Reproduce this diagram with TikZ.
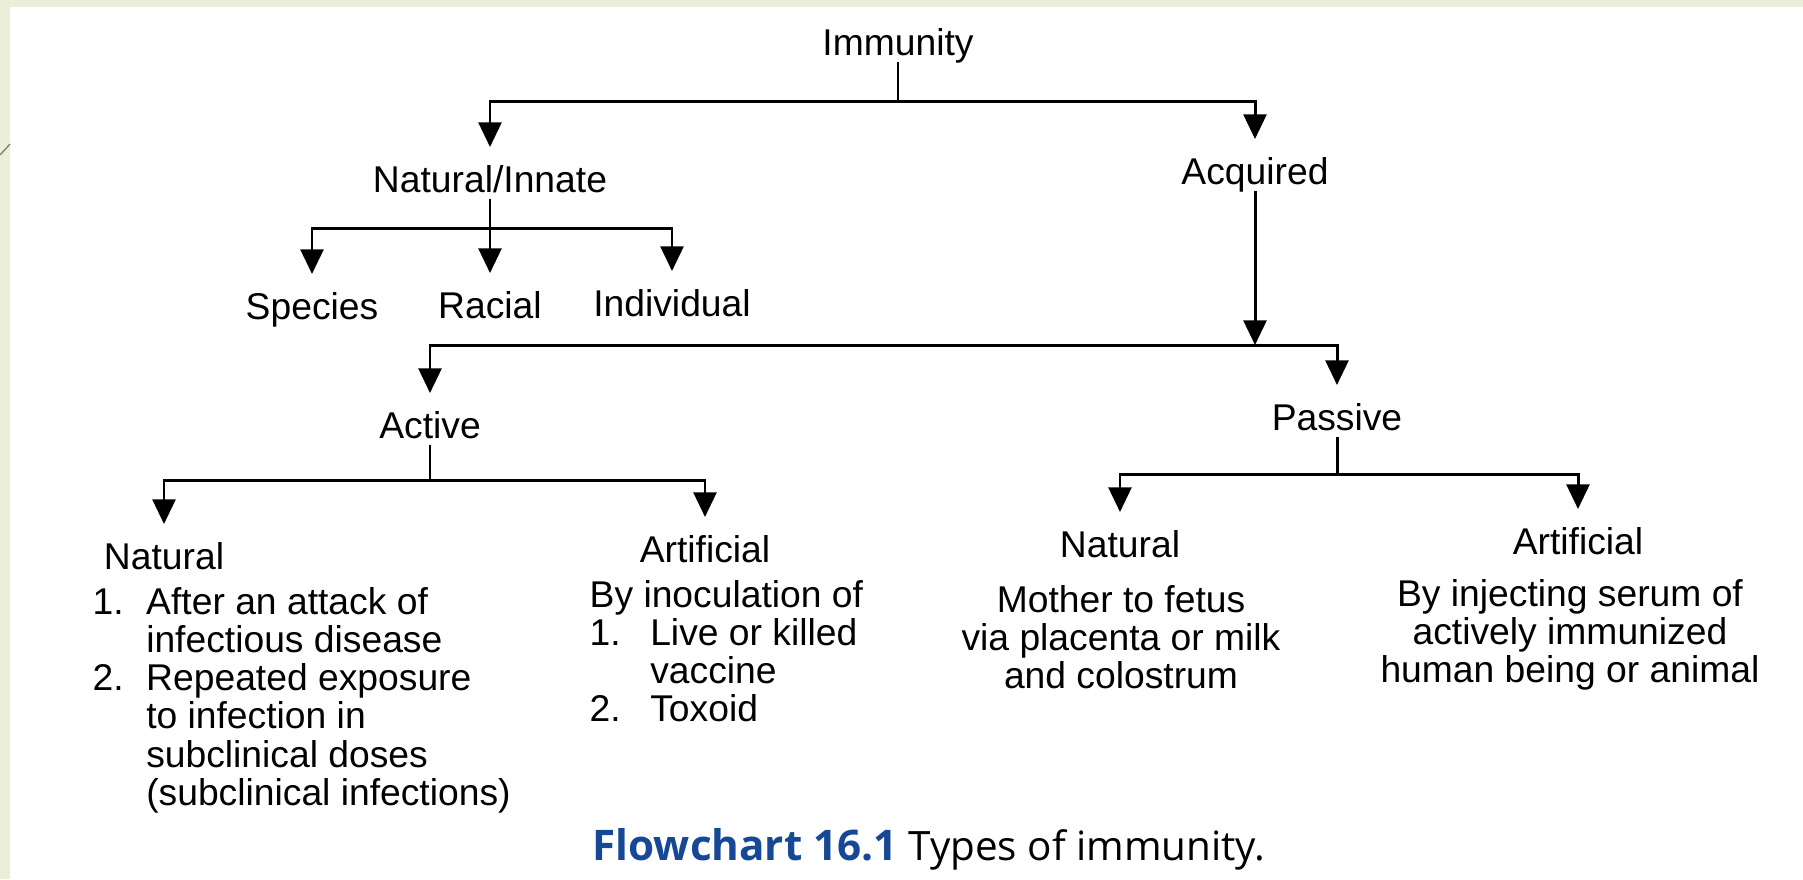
\documentclass[tikz,border=0pt]{standalone}
\usepackage{fontspec}
\setmainfont{Liberation Sans}
\newfontfamily\capfont{Open Sans}
\usetikzlibrary{arrows.meta}

\definecolor{slidegreen}{RGB}{234,239,218}
\definecolor{capblue}{RGB}{22,72,150}

\tikzset{
  lbl/.style={font=\fontsize{10.6}{10.7}\selectfont, text height=11pt, text depth=0pt, inner xsep=2pt, inner ysep=1.7pt},
  lst/.style={font=\fontsize{10.6}{10.7}\selectfont, inner sep=0pt},
  branch/.style={line width=0.85pt},
  arr/.style={branch, -{Triangle[length=7pt,width=6.5pt]}}
}

\begin{document}
\begin{tikzpicture}
  % page
  \useasboundingbox (0,0) rectangle (18.03,-8.79);
  \fill[white] (0,0) rectangle (18.03,-8.79);
  \fill[slidegreen] (0,0) rectangle (18.03,-0.07);
  \fill[slidegreen] (0,0) rectangle (0.10,-8.79);
  \draw[gray!70!brown, line width=0.4pt] (0,-1.55) -- (0.10,-1.44);

  % levels
  \node[lbl] (imm) at (8.98,-0.36) {Immunity};
  \node[lbl] (innate) at (4.90,-1.73) {Natural/Innate};
  \node[lbl] (acq) at (12.55,-1.65) {Acquired};
  \node[lbl] (species) at (3.12,-3.00) {Species};
  \node[lbl] (racial) at (4.90,-2.99) {Racial};
  \node[lbl] (indiv) at (6.72,-2.97) {Individual};
  \node[lbl] (active) at (4.30,-4.19) {Active};
  \node[lbl] (passive) at (13.37,-4.11) {Passive};
  \node[lbl] (actnat) at (1.64,-5.50) {Natural};
  \node[lbl] (actart) at (7.05,-5.43) {Artificial};
  \node[lbl] (pasnat) at (11.20,-5.38) {Natural};
  \node[lbl] (pasart) at (15.78,-5.35) {Artificial};

  % bars
  \coordinate (immbar) at (8.98,-1.01);
  \coordinate (innbar) at (4.90,-2.28);
  \coordinate (acqbar) at (12.55,-3.45);
  \coordinate (actbar) at (4.30,-4.80);
  \coordinate (pasbar) at (13.37,-4.74);

  \draw[branch] (imm) -- (immbar);
  \draw[arr] (immbar) -| (innate);
  \draw[arr] (immbar) -| (acq);

  \draw[branch] (innate) -- (innbar);
  \draw[arr] (innbar) -| (species);
  \draw[arr] (innbar) -- (racial);
  \draw[arr] (innbar) -| (indiv);

  \draw[arr] (acq) -- (acqbar);
  \draw[arr] (acqbar) -| (active);
  \draw[arr] (acqbar) -| (passive);

  \draw[branch] (active) -- (actbar);
  \draw[arr] (actbar) -| (actnat);
  \draw[arr] (actbar) -| (actart);

  \draw[branch] (passive) -- (pasbar);
  \draw[arr] (pasbar) -| (pasnat);
  \draw[arr] (pasbar) -| (pasart);

  % details
  \node[lst, anchor=base west] (actnatlist) at (0.92,-6.14) {%
    \begin{tabular}[t]{@{}l@{\hspace{6.4pt}}l@{}}
      1. & After an attack of\\
         & infectious disease\\
      2. & Repeated exposure\\
         & to infection in\\
         & subclinical doses\\
         & (subclinical infections)
    \end{tabular}};
  \node[lst, anchor=base west] (actartlist) at (5.89,-6.07) {%
    \begin{tabular}[t]{@{}l@{\hspace{8.4pt}}l@{}}
      \multicolumn{2}{@{}l@{}}{By inoculation of}\\
      1. & Live or killed\\
         & vaccine\\
      2. & Toxoid
    \end{tabular}};
  \node[lst, anchor=base] (pasnatlist) at (11.21,-6.12) {%
    \begin{tabular}[t]{@{}c@{}}
      Mother to fetus\\
      via placenta or milk\\
      and colostrum
    \end{tabular}};
  \node[lst, anchor=base] (pasartlist) at (15.70,-6.06) {%
    \begin{tabular}[t]{@{}c@{}}
      By injecting serum of\\
      actively immunized\\
      human being or animal
    \end{tabular}};

  % caption
  \node[anchor=base west, inner sep=0pt, font=\capfont\fontsize{12}{14}\selectfont] (caption) at (5.92,-8.60)
    {\textcolor{capblue}{\bfseries Flowchart 16.1} {\fontsize{11.5}{14}\selectfont Types of immunity.}};
\end{tikzpicture}
\end{document}
